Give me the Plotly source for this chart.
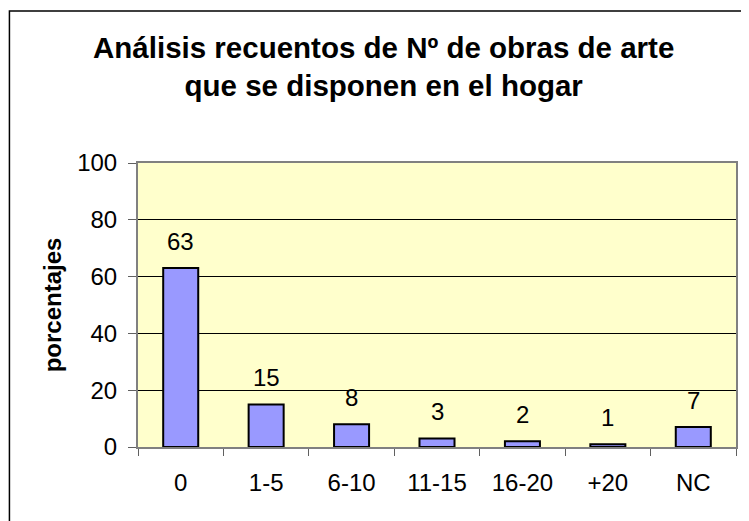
import plotly.graph_objects as go

categorias = ["0", "1-5", "6-10", "11-15", "16-20", "+20", "NC"]
porcentajes = [63, 15, 8, 3, 2, 1, 7]
y_ticks = [0, 20, 40, 60, 80, 100]

fig = go.Figure(
    go.Bar(
        x=categorias,
        y=porcentajes,
        marker=dict(color="#9999FF", line=dict(color="black", width=2)),
    )
)

# etiquetas de datos encima de cada barra (x = posicion de la categoria)
for i, val in enumerate(porcentajes):
    fig.add_annotation(
        x=i, y=val, text=str(val), showarrow=False,
        yanchor="bottom", yshift=11, font=dict(size=24, color="black"),
    )

fig.update_layout(
    width=741,
    height=513,
    margin=dict(l=130, r=11, t=155, b=74),
    paper_bgcolor="white",
    plot_bgcolor="#FFFFCC",
    font=dict(family="Liberation Sans, Arial, sans-serif", size=24, color="black"),
    bargap=0.59,
    showlegend=False,
    title=dict(
        text="<b>Análisis recuentos de Nº de obras de arte<br>que se disponen en el hogar</b>",
        x=0.507,
        xanchor="center",
        y=0.9025,
        yanchor="top",
        font=dict(size=29.5),
    ),
    shapes=[
        dict(
            type="rect", xref="paper", yref="paper",
            x0=-0.215, x1=1.2, y0=-0.6, y1=1.535,
            line=dict(color="black", width=1.5), layer="below",
        )
    ],
)

fig.update_xaxes(
    type="category", categoryorder="array", categoryarray=categorias,
    range=[-0.5, len(categorias) - 0.5], tickangle=0,
    showline=True, linecolor="#808080", linewidth=2, mirror=True,
    ticks="outside", tickson="boundaries", ticklen=7, tickcolor="#606060",
    showgrid=False, tickfont=dict(size=24), ticklabelstandoff=13,
)
fig.update_yaxes(
    range=[0, 100], tickvals=y_ticks,
    showline=True, linecolor="#808080", linewidth=2, mirror=True,
    ticks="outside", ticklen=8, tickcolor="#606060",
    showgrid=True, gridcolor="black", gridwidth=1, zeroline=False,
    tickfont=dict(size=24), ticklabelstandoff=6,
    title=dict(text="<b>porcentajes</b>", font=dict(size=24), standoff=9),
)

fig.write_html("out.html")
